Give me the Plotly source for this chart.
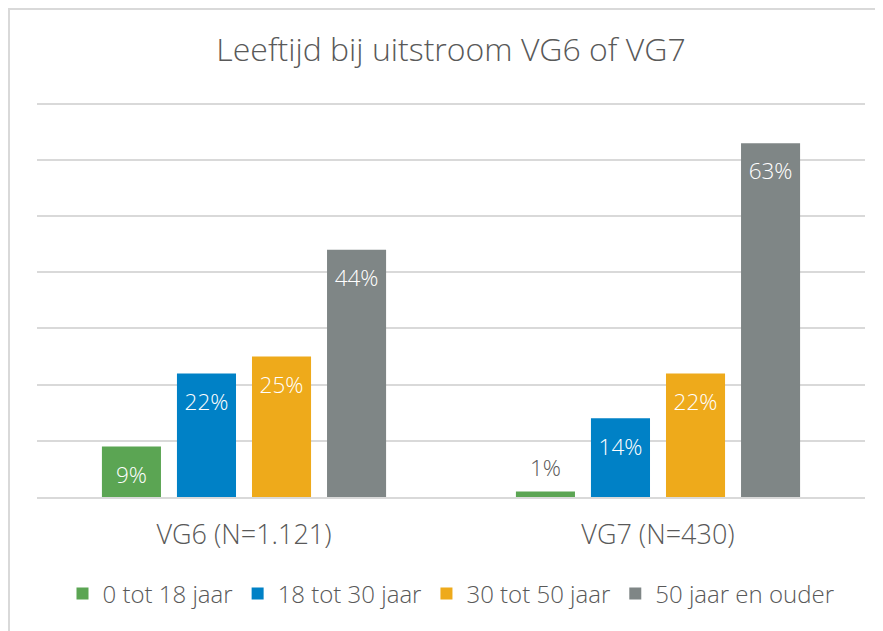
import plotly.graph_objects as go

categories = ["VG6 (N=1.121)", "VG7 (N=430)"]
series_names = ["0 tot 18 jaar", "18 tot 30 jaar", "30 tot 50 jaar", "50 jaar en ouder"]
values_0_18 = [9, 1]
values_18_30 = [22, 14]
values_30_50 = [25, 22]
values_50_plus = [44, 63]
colors = ["#5ba553", "#0081c6", "#eeaa1b", "#7f8686"]

all_values = [values_0_18, values_18_30, values_30_50, values_50_plus]
FONT = "Open Sans"
TXT = "#595959"
LBL = "<span style='font-size:22.5px'>{}%</span>"

fig = go.Figure()
for name, vals, col in zip(series_names, all_values, colors):
    inside = [v >= 5 for v in vals]
    positions = ["inside" if ins else "outside" for ins in inside]
    tcolors = ["white" if ins else TXT for ins in inside]
    tsizes = [14 if ins else 8 for ins in inside]
    texts = [("&nbsp;<br>" + LBL.format(v)) if ins else (LBL.format(v) + "<br>&nbsp;")
             for v, ins in zip(vals, inside)]
    fig.add_trace(go.Bar(
        x=categories, y=vals, name=name,
        marker=dict(color=col, line=dict(width=0)),
        text=texts,
        textposition=positions,
        insidetextanchor="end",
        textfont=dict(family=FONT, size=tsizes, color=tcolors, weight=300),
        cliponaxis=False,
        hoverinfo="skip",
    ))

# page body has an 8px margin, so the figure is drawn 8px smaller and offset
fig.update_layout(
    width=875, height=623,
    margin=dict(l=29, r=18, t=93, b=134),
    paper_bgcolor="white", plot_bgcolor="white",
    barmode="group", bargap=0.275, bargroupgap=0.213,
    font=dict(family=FONT, color=TXT, weight=300),
    title=dict(text="Leeftijd bij uitstroom VG6 of VG7", x=0.5, xref="paper",
               y=1 - 42 / 623, yref="container", yanchor="middle",
               font=dict(family=FONT, size=32, color=TXT, weight=300)),
    showlegend=True,
    legend=dict(orientation="h", x=0.5, xanchor="center", y=-0.245, yanchor="middle",
                font=dict(family=FONT, size=24, color=TXT, weight=300),
                itemwidth=30, traceorder="normal"),
)
fig.update_xaxes(showgrid=False, showline=True, linecolor="#d9d9d9", linewidth=2,
                 ticks="outside", ticklen=13, tickcolor="rgba(0,0,0,0)",
                 tickfont=dict(family=FONT, size=27, color=TXT, weight=300))
fig.update_yaxes(range=[0, 70.5], dtick=10, showgrid=True, gridcolor="#d9d9d9", gridwidth=2,
                 showticklabels=False, zeroline=False, showline=False)

fig.add_shape(type="rect", xref="paper", yref="paper",
              x0=(1 - 29) / 828, x1=1.1, y0=-0.45, y1=1 + 92 / 395.8,
              line=dict(color="#d9d9d9", width=2), fillcolor="rgba(0,0,0,0)", layer="below")

fig.write_html("out.html")
